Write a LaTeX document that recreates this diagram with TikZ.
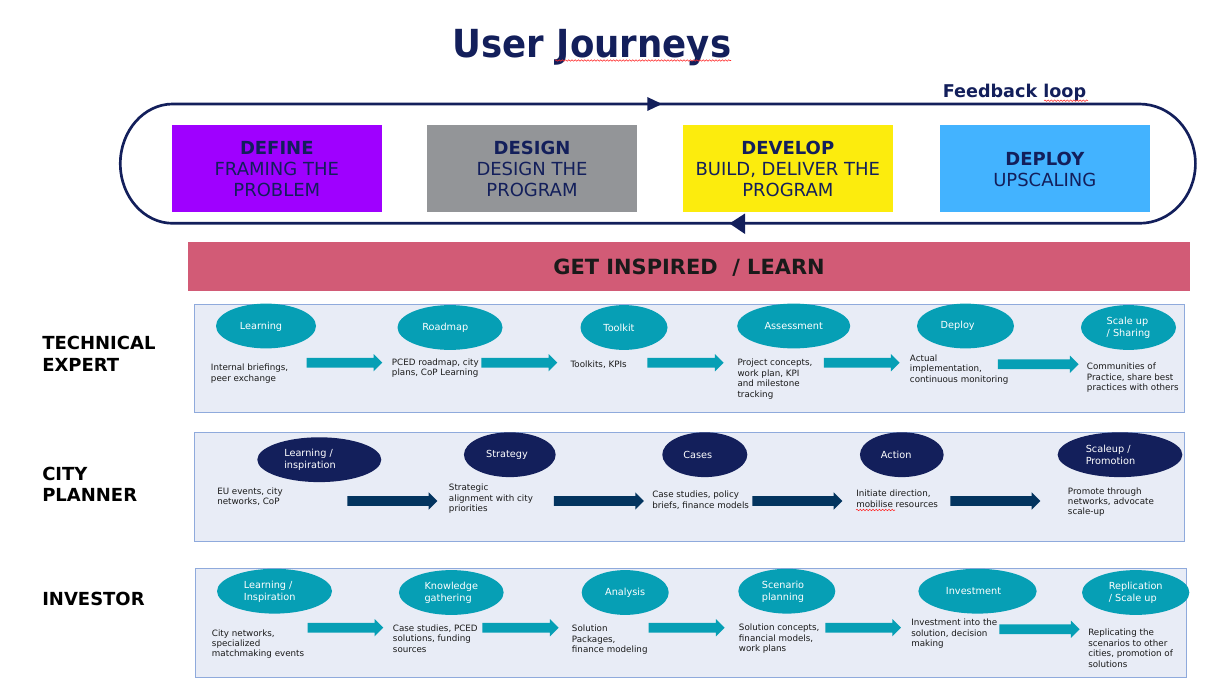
\documentclass[tikz,border=0pt]{standalone}
\usepackage{fontspec}
\setmainfont{DejaVu Sans}
\newfontfamily\titlef[FakeStretch=0.92]{DejaVu Sans}
\usetikzlibrary{shapes.geometric,shapes.arrows,decorations.pathmorphing}
\definecolor{navy}{HTML}{131F5B}
\definecolor{tealc}{HTML}{069FB5}
\definecolor{darkarrow}{HTML}{03345F}
\definecolor{panelfill}{HTML}{E8ECF6}
\definecolor{panelline}{HTML}{8FAADC}
\definecolor{purplebox}{HTML}{9F00FF}
\definecolor{graybox}{HTML}{939598}
\definecolor{yellowbox}{HTML}{FCEC0D}
\definecolor{bluebox}{HTML}{43B3FF}
\definecolor{pinkbar}{HTML}{D25B76}
\definecolor{inktext}{HTML}{1A1A1A}
\tikzset{
  phasebox/.style={rectangle,inner sep=0pt,minimum width=157.5pt,minimum height=65pt,text=navy,align=center,
    font=\fontsize{13.5}{15.8}\selectfont},
  panelbox/.style={rectangle,draw=panelline,line width=0.7pt,fill=panelfill,inner sep=0pt,anchor=north west},
  oval/.style={ellipse,inner sep=0pt,minimum height=33.6pt,text=white,align=left,font=\fontsize{7.3}{9}\selectfont},
  tealoval/.style={oval,fill=tealc},
  navyoval/.style={oval,fill=navy},
  ovaltext/.style={inner sep=0pt,text=white,align=left,font=\fontsize{7.3}{9}\selectfont},
  blockarrow/.style={single arrow,inner xsep=0pt,inner ysep=3.45pt,single arrow head extend=2.85pt,single arrow head indent=0pt,anchor=tail},
  tealarrow/.style={blockarrow,fill=tealc},
  darkarrowb/.style={blockarrow,fill=darkarrow},
  note/.style={inner sep=0pt,anchor=west,align=left,text=inktext,font=\fontsize{6.55}{7.8}\selectfont},
  rolelabel/.style={inner sep=0pt,anchor=west,align=left,text=black,font=\bfseries\fontsize{13.5}{15.8}\selectfont},
  squiggle/.style={draw=red!85!white,line width=0.4pt,decorate,decoration={snake,segment length=2.4pt,amplitude=0.55pt}},
}
\newcommand{\ov}[6]{\node[#1,minimum width=#5*0.75pt] (#2) at (#3,#4) {#6};}
\newcommand{\ar}[5]{\node[#1,minimum height=(#4-#3)*0.75pt] (#2) at (#3,#5) {};}
\newcommand{\pstrut}{\rule{0pt}{11.6pt}}
\begin{document}
\begin{tikzpicture}[x=0.75pt,y=-0.75pt]
\useasboundingbox (0,0) rectangle (1206,681);
% title
\node[inner sep=0pt,text=navy,font=\titlef\bfseries\fontsize{29}{34}\selectfont] (title) at (592,48) {User Journeys};
\coordinate (sqa) at (555,60.5); \coordinate (sqb) at (731,60.5);
\draw[squiggle] (sqa) -- (sqb);
% loop
\draw[navy,line width=2pt] (172.7,104) -- (1139.4,104)
  .. controls (1170.3,104) and (1195.4,130.7) .. (1195.4,163.6)
  .. controls (1195.4,196.6) and (1170.3,223.3) .. (1139.4,223.3)
  -- (172.7,223.3)
  .. controls (144,223.3) and (120.3,196.6) .. (120.3,163.6)
  .. controls (120.3,130.7) and (144,104) .. (172.7,104) -- cycle;
\fill[navy] (647.3,97) -- (662,104) -- (647.3,111) -- cycle;
\fill[navy] (745,213.5) -- (729.5,223.5) -- (745,234) -- cycle;
\node[inner sep=0pt,text=navy,font=\bfseries\fontsize{13.2}{16}\selectfont] (fb) at (1014.5,93) {Feedback loop};
\coordinate (sqc) at (1044,100.7); \coordinate (sqd) at (1088,100.7);
\draw[squiggle] (sqc) -- (sqd);
% phases
\node[phasebox,fill=purplebox] (define) at (276.8,168.2) {\pstrut{\bfseries DEFINE}\\FRAMING THE\\PROBLEM};
\node[phasebox,fill=graybox] (design) at (532,168.2) {\pstrut{\bfseries DESIGN}\\DESIGN THE\\PROGRAM};
\node[phasebox,fill=yellowbox] (develop) at (787.8,168.2) {\pstrut{\bfseries DEVELOP}\\BUILD, DELIVER THE\\PROGRAM};
\node[phasebox,fill=bluebox] (deploy) at (1044.8,168.2) {\pstrut{\bfseries DEPLOY}\\UPSCALING};
% bar
\node[rectangle,fill=pinkbar,inner sep=0pt,minimum width=751.5pt,minimum height=36.8pt,text=inktext,font=\bfseries\fontsize{15.7}{18}\selectfont] (inspire) at (689,266.5) {\raisebox{-6.1pt}[0pt][0pt]{GET INSPIRED\ \ / LEARN}};
% role labels
\node[rolelabel] (r1) at (42,353.8) {TECHNICAL\\EXPERT};
\node[rolelabel] (r2) at (42,484.2) {CITY\\PLANNER};
\node[rolelabel] (r3) at (42,598.7) {INVESTOR};
% panels
\node[panelbox,minimum width=742.5pt,minimum height=81.2pt] (p1) at (194,303.5) {};
\node[panelbox,minimum width=742.5pt,minimum height=81.3pt] (p2) at (194,432.3) {};
\node[panelbox,minimum width=743.3pt,minimum height=81.3pt] (p3) at (195,568.3) {};
% row 1
\ov{tealoval}{a1}{266}{326}{100}{}
\node[ovaltext] (a1t) at (261,326.5) {Learning};
\ov{tealoval}{a2}{450}{327.5}{105}{}
\node[ovaltext] (a2t) at (445.3,327.8) {Roadmap};
\ov{tealoval}{a3}{624}{327.5}{87}{}
\node[ovaltext] (a3t) at (619,327.8) {Toolkit};
\ov{tealoval}{a4}{793.7}{326}{113}{Assessment}
\ov{tealoval}{a5}{965.5}{326}{97}{}
\node[ovaltext] (a5t) at (957.7,326.3) {Deploy};
\ov{tealoval}{a6}{1128.5}{327.5}{95}{Scale up\\/ Sharing}
\ar{tealarrow}{aa1}{306.3}{382}{362.7}
\ar{tealarrow}{aa2}{481}{557}{362.7}
\ar{tealarrow}{aa3}{647}{723.3}{362.7}
\ar{tealarrow}{aa4}{823.7}{899.3}{362.7}
\ar{tealarrow}{aa5}{997.7}{1078.3}{364.3}
\node[note] (an1) at (210.7,373.5) {Internal briefings,\\peer exchange};
\node[note] (an2) at (391.7,368) {PCED roadmap, city\\plans, CoP Learning};
\node[note] (an3) at (570.3,364.5) {Toolkits, KPIs};
\node[note] (an4) at (737.3,379) {Project concepts,\\work plan, KPI\\and milestone\\tracking};
\node[note] (an5) at (909.7,369.2) {Actual\\implementation,\\continuous monitoring};
\node[note] (an6) at (1086.7,377.6) {Communities of\\Practice, share best\\practices with others};
% row 2
\ov{navyoval}{b1}{319.3}{459.7}{124}{}
\node[ovaltext] (b1t) at (310,460) {Learning /\\inspiration};
\ov{navyoval}{b2}{509.8}{454.7}{91.7}{}
\node[ovaltext] (b2t) at (507,455) {Strategy};
\ov{navyoval}{b3}{704.8}{454.7}{85}{}
\node[ovaltext] (b3t) at (697.8,455) {Cases};
\ov{navyoval}{b4}{901.8}{454.7}{83.7}{}
\node[ovaltext] (b4t) at (896.2,455) {Action};
\ov{navyoval}{b5}{1120}{454.7}{124.7}{}
\node[ovaltext] (b5t) at (1110.5,455) {Scaleup /\\Promotion};
\ar{darkarrowb}{ba1}{347}{437}{501}
\ar{darkarrowb}{ba2}{553.7}{643.7}{501}
\ar{darkarrowb}{ba3}{752}{842}{501}
\ar{darkarrowb}{ba4}{950}{1040}{501}
\node[note] (bn1) at (217,496.6) {EU events, city\\networks, CoP};
\node[note] (bn2) at (448.7,498.7) {Strategic\\alignment with city\\priorities};
\node[note] (bn3) at (652,500.1) {Case studies, policy\\briefs, finance models};
\node[note] (bn4) at (856,498.9) {Initiate direction,\\mobilise resources};
\node[note] (bn5) at (1067.7,502) {Promote through\\networks, advocate\\scale-up};
\coordinate (sqe) at (856,510); \coordinate (sqf) at (895,510);
\draw[squiggle] (sqe) -- (sqf);
% row 3
\ov{tealoval}{c1}{274.5}{591.2}{115}{}
\node[ovaltext] (c1t) at (269.7,591.5) {Learning /\\Inspiration};
\ov{tealoval}{c2}{451.3}{592.5}{104.7}{Knowledge\\gathering}
\ov{tealoval}{c3}{625.2}{592.5}{87}{Analysis}
\ov{tealoval}{c4}{786.8}{591.2}{97}{}
\node[ovaltext] (c4t) at (783,591.5) {Scenario\\planning};
\ov{tealoval}{c5}{977.5}{591.2}{118.3}{}
\node[ovaltext] (c5t) at (973.5,591.5) {Investment};
\ov{tealoval}{c6}{1135.7}{592.5}{107.3}{Replication\\/ Scale up}
\ar{tealarrow}{ca1}{307.3}{383}{627.7}
\ar{tealarrow}{ca2}{482}{558.3}{627.7}
\ar{tealarrow}{ca3}{648.3}{724.3}{627.7}
\ar{tealarrow}{ca4}{825}{900.7}{627.7}
\ar{tealarrow}{ca5}{999}{1079.3}{629.3}
\node[note] (cn1) at (211.7,644) {City networks,\\specialized\\matchmaking events};
\node[note] (cn2) at (392.7,638.6) {Case studies, PCED\\solutions, funding\\sources};
\node[note] (cn3) at (571.7,639.6) {Solution\\Packages,\\finance modeling};
\node[note] (cn4) at (738.7,638.6) {Solution concepts,\\financial models,\\work plans};
\node[note] (cn5) at (911,633.9) {Investment into the\\solution, decision\\making};
\node[note] (cn6) at (1088,648.2) {Replicating the\\scenarios to other\\cities, promotion of\\solutions};
\end{tikzpicture}
\end{document}
